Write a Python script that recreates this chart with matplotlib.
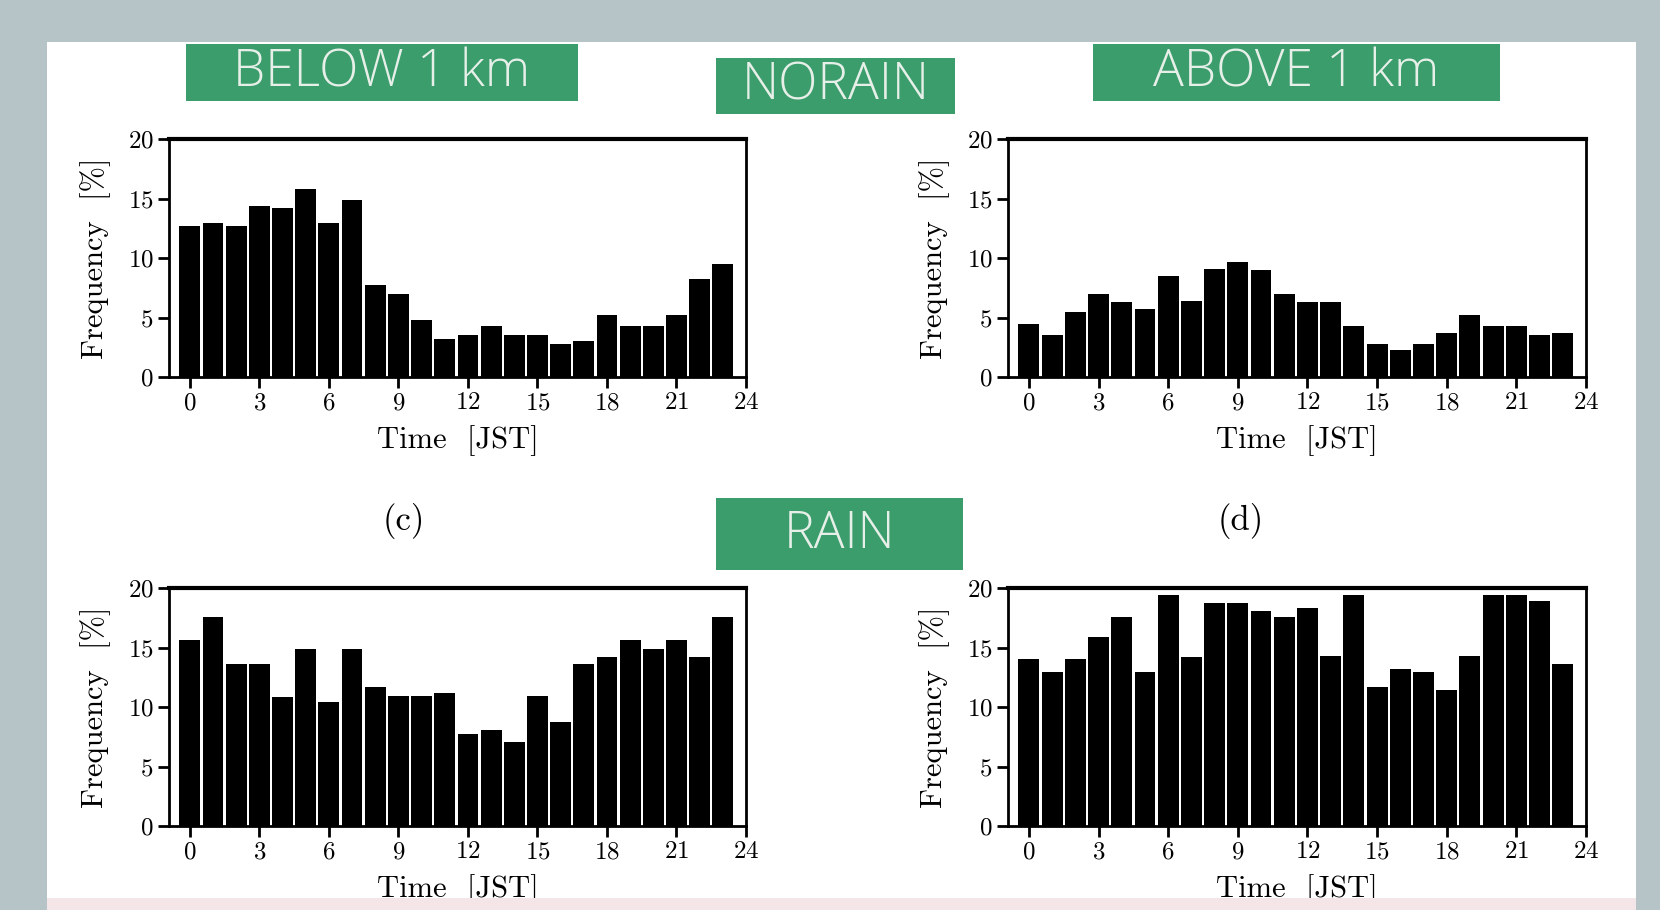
import numpy as np
import matplotlib
matplotlib.use("Agg")
import matplotlib.pyplot as plt
from matplotlib.patches import Rectangle

W, H = 1660, 910

hours = np.arange(24)
xticks = [0, 3, 6, 9, 12, 15, 18, 21, 24]
yticks = [0, 5, 10, 15, 20]

# frequency [%] per hour (JST)
norain_below = [12.7, 12.9, 12.7, 14.4, 14.2, 15.8, 12.9, 14.9, 7.7, 7.0, 4.8, 3.2,
                3.5, 4.3, 3.5, 3.5, 2.8, 3.0, 5.2, 4.3, 4.3, 5.2, 8.2, 9.5]
norain_above = [4.45, 3.5, 5.5, 7.0, 6.3, 5.7, 8.5, 6.4, 9.1, 9.7, 9.0, 7.0,
                6.3, 6.3, 4.3, 2.8, 2.3, 2.8, 3.7, 5.2, 4.3, 4.3, 3.5, 3.7]
rain_below = [15.65, 17.6, 13.6, 13.6, 10.8, 14.9, 10.4, 14.9, 11.7, 10.95, 10.95, 11.15,
              7.7, 8.05, 7.05, 10.95, 8.75, 13.6, 14.2, 15.65, 14.9, 15.65, 14.2, 17.6]
rain_above = [14.0, 12.9, 14.0, 15.85, 17.6, 12.9, 19.4, 14.2, 18.7, 18.7, 18.1, 17.6,
              18.3, 14.3, 19.4, 11.7, 13.2, 12.9, 11.4, 14.3, 19.4, 19.4, 18.9, 13.6]

serif = ['cmr10', 'DejaVu Serif']
plt.rcParams['axes.formatter.use_mathtext'] = True


def fig_rect(x0, y0, x1, y1):
    # pixel box (top-left origin) -> figure fraction
    return [x0 / W, 1 - y1 / H, (x1 - x0) / W, (y1 - y0) / H]


fig = plt.figure(figsize=(W / 100, H / 100), dpi=100)
fig.patch.set_facecolor('#b7c4c7')

# white page
fig.add_artist(Rectangle((47 / W, 1 - 900 / H), (1636 - 47) / W, (900 - 42) / H,
                         transform=fig.transFigure, facecolor='white', edgecolor='none', zorder=-1))

panels = [
    (norain_below, fig_rect(169, 139, 746, 377)),
    (norain_above, fig_rect(1008, 139, 1586, 377)),
    (rain_below, fig_rect(169, 588, 746, 826)),
    (rain_above, fig_rect(1008, 588, 1586, 826)),
]

for vals, pos in panels:
    ax = fig.add_axes(pos)
    ax.bar(hours, vals, width=0.9, color='black', edgecolor='none')
    ax.set_xlim(-0.9, 24)
    ax.set_ylim(0, 20)
    ax.set_xticks(xticks)
    ax.set_yticks(yticks)
    ax.tick_params(direction='out', length=8, width=2, labelsize=18, pad=3)
    for lab in ax.get_xticklabels() + ax.get_yticklabels():
        lab.set_family(serif)
    for s in ax.spines.values():
        s.set_linewidth(2)
    ax.spines['top'].set_linewidth(3)
    ax.set_xlabel('Time  [JST]', fontsize=22, family=serif, labelpad=8)
    ax.set_ylabel('Frequency  [%]', fontsize=22, family=serif, labelpad=12)

fig.text(404 / W, 1 - 521 / H, '(c)', fontsize=25, family=serif, ha='center', va='center')
fig.text(1241 / W, 1 - 521 / H, '(d)', fontsize=25, family=serif, ha='center', va='center')

# green caption boxes
green = '#3b9c6c'
boxes = [
    ('BELOW 1 km', 186, 44, 578, 101),
    ('NORAIN', 716, 58, 955, 114),
    ('ABOVE 1 km', 1093, 44, 1500, 101),
    ('RAIN', 716, 498, 963, 570),
]
for txt, x0, y0, x1, y1 in boxes:
    r = fig_rect(x0, y0, x1, y1)
    fig.add_artist(Rectangle((r[0], r[1]), r[2], r[3], transform=fig.transFigure,
                             facecolor=green, edgecolor='none', zorder=5))
    fig.text((x0 + x1) / 2 / W, 1 - (y0 + y1) / 2 / H, txt, fontsize=37, family='Open Sans',
             fontweight='light', color='#e6f0e8', ha='center', va='center', zorder=6)

# pink strip at the bottom
fig.add_artist(Rectangle((47 / W, 0), (1636 - 47) / W, 12 / H, transform=fig.transFigure,
                         facecolor='#f4e6e8', edgecolor='none', zorder=5))

fig.savefig('out.png', dpi=100, facecolor=fig.get_facecolor())
